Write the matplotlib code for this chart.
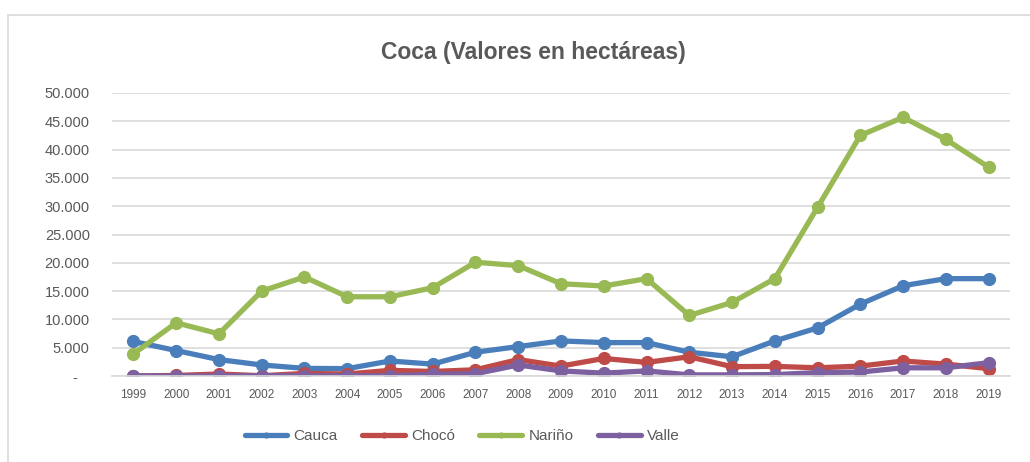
import matplotlib.pyplot as plt
from matplotlib.patches import Rectangle
from matplotlib.ticker import FuncFormatter

plt.rcParams['font.family'] = ['Liberation Sans', 'DejaVu Sans']

years = ["1999", "2000", "2001", "2002", "2003", "2004", "2005", "2006", "2007", "2008",
         "2009", "2010", "2011", "2012", "2013", "2014", "2015", "2016", "2017", "2018", "2019"]

cauca = [6100, 4500, 2900, 1950, 1350, 1300, 2650, 2100, 4200, 5200,
         6200, 5900, 5900, 4200, 3400, 6200, 8500, 12700, 15950, 17200, 17200]
choco = [0, 100, 350, 50, 450, 350, 1000, 800, 1100, 2900,
         1750, 3100, 2400, 3400, 1650, 1700, 1450, 1750, 2650, 2100, 1300]
narino = [3900, 9400, 7450, 15000, 17500, 14000, 14000, 15600, 20100, 19500,
          16300, 15900, 17200, 10700, 13000, 17200, 29800, 42500, 45700, 41800, 36900]
valle = [0, 0, 0, 50, 50, 50, 50, 300, 400, 1950,
         900, 500, 900, 200, 200, 250, 600, 700, 1450, 1450, 2350]

series = [("Cauca", cauca, "#4A7EBB"), ("Chocó", choco, "#BE4B48"),
          ("Nariño", narino, "#98B954"), ("Valle", valle, "#7D60A0")]

grey = "#595959"

fig = plt.figure(figsize=(10.3, 4.62), dpi=100)
ax = fig.add_axes([112 / 1030, 1 - 376 / 462, 898 / 1030, 283 / 462])

# marco del gráfico (solo se ven arriba e izquierda)
fig.patches.append(Rectangle((8 / 1030, -0.1), 1.1, 1.1 - 15 / 462, transform=fig.transFigure,
                             fill=False, edgecolor="#D9D9D9", linewidth=1.2))

x = range(len(years))
for name, vals, col in series:
    ax.plot(x, vals, color=col, linewidth=3.8, marker="o", markersize=8.5,
            label=name, solid_capstyle="round")

ax.set_xlim(-0.5, len(years) - 0.5)
ax.set_ylim(0, 50000)
ax.set_yticks(range(0, 50001, 5000))
ax.yaxis.set_major_formatter(FuncFormatter(
    lambda v, p: "-   " if v == 0 else f"{int(v):,}".replace(",", ".")))
ax.set_xticks(list(x))
ax.set_xticklabels(years)

ax.grid(axis="y", color="#D9D9D9", linewidth=1.2)
ax.set_axisbelow(True)
for s in ["top", "right", "left"]:
    ax.spines[s].set_visible(False)
ax.spines["bottom"].set_color("#D9D9D9")
ax.spines["bottom"].set_linewidth(1.2)

ax.tick_params(axis="y", length=0, pad=16, labelsize=10.5, labelcolor=grey)
ax.tick_params(axis="x", length=0, pad=9, labelsize=8.5, labelcolor=grey)

fig.text(533 / 1030, 1 - 52 / 462, "Coca (Valores en hectáreas)", ha="center", va="center",
         fontsize=16.5, fontweight="bold", color=grey)

leg = fig.legend(loc="center", bbox_to_anchor=(462 / 1030, 1 - 436 / 462), ncol=4,
                 frameon=False, fontsize=11, handlelength=2.8, handletextpad=0.4,
                 columnspacing=1.6, markerscale=0.4)
for t in leg.get_texts():
    t.set_color(grey)

plt.savefig("out.png", dpi=100)
